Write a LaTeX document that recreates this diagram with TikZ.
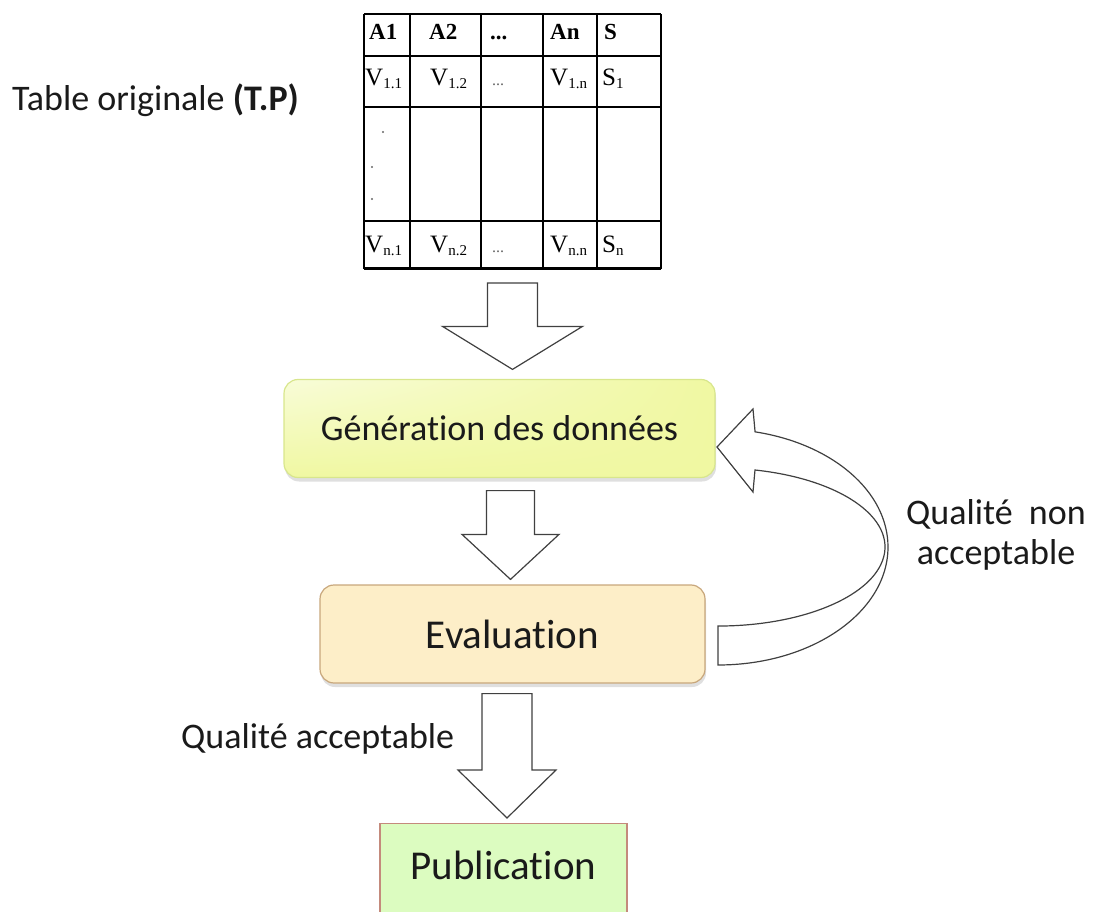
\documentclass[tikz,border=0pt]{standalone}
\usepackage{fontspec}
\setmainfont{Carlito}[Ligatures=NoCommon]
\newfontfamily\tabfont{Liberation Serif}
\usetikzlibrary{calc,shadows,shadings}

\definecolor{genfill}{HTML}{F0F8A2}
\definecolor{genlight}{HTML}{F8FCD8}
\definecolor{genline}{HTML}{D8E68C}
\definecolor{evalfill}{HTML}{FDEEC8}
\definecolor{evalline}{HTML}{C8A77C}
\definecolor{pubfill}{HTML}{DCFCC0}
\definecolor{publine}{HTML}{C48A7C}
\definecolor{txt}{HTML}{1A1A1A}

\tikzset{
	stepnode/.style={rounded corners=14pt, draw, line width=1.2pt, align=center, text=txt,
		drop shadow={shadow xshift=1pt, shadow yshift=-4pt, opacity=0.25}},
	blockarr/.style={draw=black!75, line width=1.2pt, fill=white},
	cell/.style={inner sep=0pt, anchor=base west, font=\tabfont\fontsize{25}{27}\selectfont},
	headcell/.style={cell, font=\tabfont\bfseries\fontsize{23}{25}\selectfont},
	label/.style={inner sep=0pt, text=txt, font=\fontsize{36}{40}\selectfont},
}

% hollow block arrow: top point, tip point, shaft half width, head half width, head length
\newcommand{\hollowarrow}[5]{%
	\draw[blockarr] let \p1=#1, \p2=#2 in
		(\x1-#3pt,\y1) -- (\x1+#3pt,\y1) -- (\x1+#3pt,\y2+#5pt) -- (\x1+#4pt,\y2+#5pt)
		-- (\x1,\y2) -- (\x1-#4pt,\y2+#5pt) -- (\x1-#3pt,\y2+#5pt) -- cycle;}
\newcommand{\sub}[1]{\raisebox{-3pt}{\fontsize{15}{16}\selectfont #1}}

\begin{document}
\begin{tikzpicture}[x=1pt,y=-1pt]
	\useasboundingbox (0,0) rectangle (1101,912);

	% Table
	\foreach \x in {364,410,481,543,597,661}
		\draw[line width=1.3pt] (\x,14) -- (\x,269);
	\foreach \y in {14,56,107,221}
		\draw[line width=1.3pt] (364,\y) -- (661,\y);
	\draw[line width=3pt] (364,269) -- (661,269);
	\coordinate (tabS) at (512.5,270);

	\node[headcell] (hA1) at (369,40) {A1};
	\node[headcell] (hA2) at (429,40) {A2};
	\node[headcell] (hdots) at (490,40) {...};
	\node[headcell] (hAn) at (550,40) {An};
	\node[headcell] (hS) at (604,40) {S};

	\node[cell] (v11) at (365,86) {V\sub{1.1}};
	\node[cell] (v12) at (430,86) {V\sub{1.2}};
	\node[cell, text=black!60, font=\tabfont\fontsize{16}{18}\selectfont] (v1d) at (492,86) {...};
	\node[cell] (v1n) at (550,86) {V\sub{1.n}};
	\node[cell] (s1) at (602,86) {S\sub{1}};

	\node[cell] (vn1) at (365,253) {V\sub{n.1}};
	\node[cell] (vn2) at (430,253) {V\sub{n.2}};
	\node[cell, text=black!60, font=\tabfont\fontsize{16}{18}\selectfont] (vnd) at (492,253) {...};
	\node[cell] (vnn) at (550,253) {V\sub{n.n}};
	\node[cell] (sn) at (602,253) {S\sub{n}};

	\fill[black!60] (383,132) circle (1.2) (372,167) circle (1.2) (372,199) circle (1.2);

	\node[label, anchor=base west] (orig) at (12,111) {Table originale \textbf{(T.P)}};

	% Steps
	\node[stepnode, draw=genline, upper left=genlight, upper right=genfill, lower left=genfill, lower right=genfill,
		minimum width=431pt, minimum height=98pt, font=\fontsize{36}{40}\selectfont] (gen) at (499.5,428.5) {Génération des données};
	\node[stepnode, draw=evalline, fill=evalfill, minimum width=385pt, minimum height=98pt,
		font=\fontsize{41}{44}\selectfont] (eval) at (512.5,634) {Evaluation};
	\node[draw=publine, fill=pubfill, line width=1.2pt, text=txt, minimum width=247pt, inner ysep=0pt,
		text height=56pt, text depth=50pt, anchor=north, font=\fontsize{41}{44}\selectfont] (pub) at (503.5,823) {Publication};

	% Arrows
	\hollowarrow{($(tabS)+(0,13)$)}{($(gen.north)+(12.5,-9.5)$)}{25}{70}{43}
	\hollowarrow{($(gen.south)+(11,12.5)$)}{($(eval.north)+(-1.5,-5)$)}{24}{48.5}{45}
	\hollowarrow{($(eval.south)+(-5.5,10)$)}{($(pub.north)+(3.5,-5)$)}{25}{49}{48}

	% Loop back
	\draw[blockarr] (718,665) arc[start angle=90, end angle=-77.4, x radius=170, y radius=118]
		-- (753,409) -- (717,447) -- (753,492) -- (755,470)
		arc[start angle=-77.2, end angle=90, x radius=167, y radius=79] -- cycle;

	% Labels
	\node[label, align=center] (nok) at (996,535) {Qualité\ \ non\\acceptable};
	\node[label, anchor=base west] (ok) at (181,748) {Qualité acceptable};
\end{tikzpicture}
\end{document}
